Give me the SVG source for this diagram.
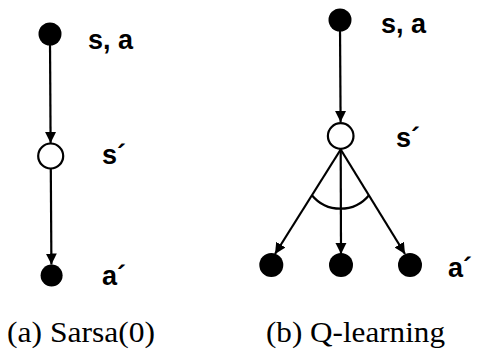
<svg xmlns="http://www.w3.org/2000/svg" width="478" height="349" viewBox="0 0 478 349">
<style>
.lbl{font-family:"Liberation Sans",Arial,sans-serif;font-weight:bold;font-size:27px;fill:#000}
.cap{font-family:"Liberation Serif","DejaVu Serif",serif;font-size:30px;fill:#000}
.full{fill:#000}
.open{fill:#fff;stroke:#000;stroke-width:2.2}
.edge{stroke:#000;stroke-width:2.2;fill:none}
</style>
<defs>
<marker id="ah" markerUnits="userSpaceOnUse" markerWidth="12" markerHeight="12" viewBox="0 0 12 12" refX="11" refY="6" orient="auto">
<path d="M0,0.5 L11,6 L0,11.5 Z" fill="#000"/>
</marker>
</defs>
<g id="connectors">
<line class="edge" x1="50" y1="40" x2="50.6" y2="143" marker-end="url(#ah)"/>
<line class="edge" x1="50.8" y1="169" x2="51.4" y2="264.5" marker-end="url(#ah)"/>
<line class="edge" x1="340" y1="25" x2="340.6" y2="122" marker-end="url(#ah)"/>
<line class="edge" x1="340.7" y1="149.5" x2="275" y2="254" marker-end="url(#ah)"/>
<line class="edge" x1="340.7" y1="149.5" x2="341" y2="254" marker-end="url(#ah)"/>
<line class="edge" x1="340.7" y1="149.5" x2="405" y2="254" marker-end="url(#ah)"/>
<path class="edge" d="M311.7,195 A37,37 0 0 0 369.2,195"/>
</g>
<g id="a-sa"><circle class="full" cx="50" cy="34" r="11.5"/><text class="lbl" x="88" y="48.5">s, a</text></g>
<g id="a-s1"><circle class="open" cx="50.7" cy="156" r="12.5"/><text class="lbl" x="102" y="163.5">s´</text></g>
<g id="a-a1"><circle class="full" cx="51.6" cy="275.5" r="11"/><text class="lbl" x="102" y="285">a´</text></g>
<g id="b-sa"><circle class="full" cx="340" cy="20" r="11.5"/><text class="lbl" x="381" y="33">s, a</text></g>
<g id="b-s1"><circle class="open" cx="340.7" cy="136" r="12.8"/><text class="lbl" x="396" y="147">s´</text></g>
<g id="b-a1"><circle class="full" cx="271.3" cy="265" r="12"/></g>
<g id="b-a2"><circle class="full" cx="341" cy="265" r="12"/></g>
<g id="b-a3"><circle class="full" cx="410" cy="265" r="12"/><text class="lbl" x="448" y="277">a´</text></g>
<text class="cap" x="7" y="342" textLength="148" lengthAdjust="spacingAndGlyphs">(a) Sarsa(0)</text>
<text class="cap" x="266" y="342" textLength="179" lengthAdjust="spacingAndGlyphs">(b) Q-learning</text>
</svg>
